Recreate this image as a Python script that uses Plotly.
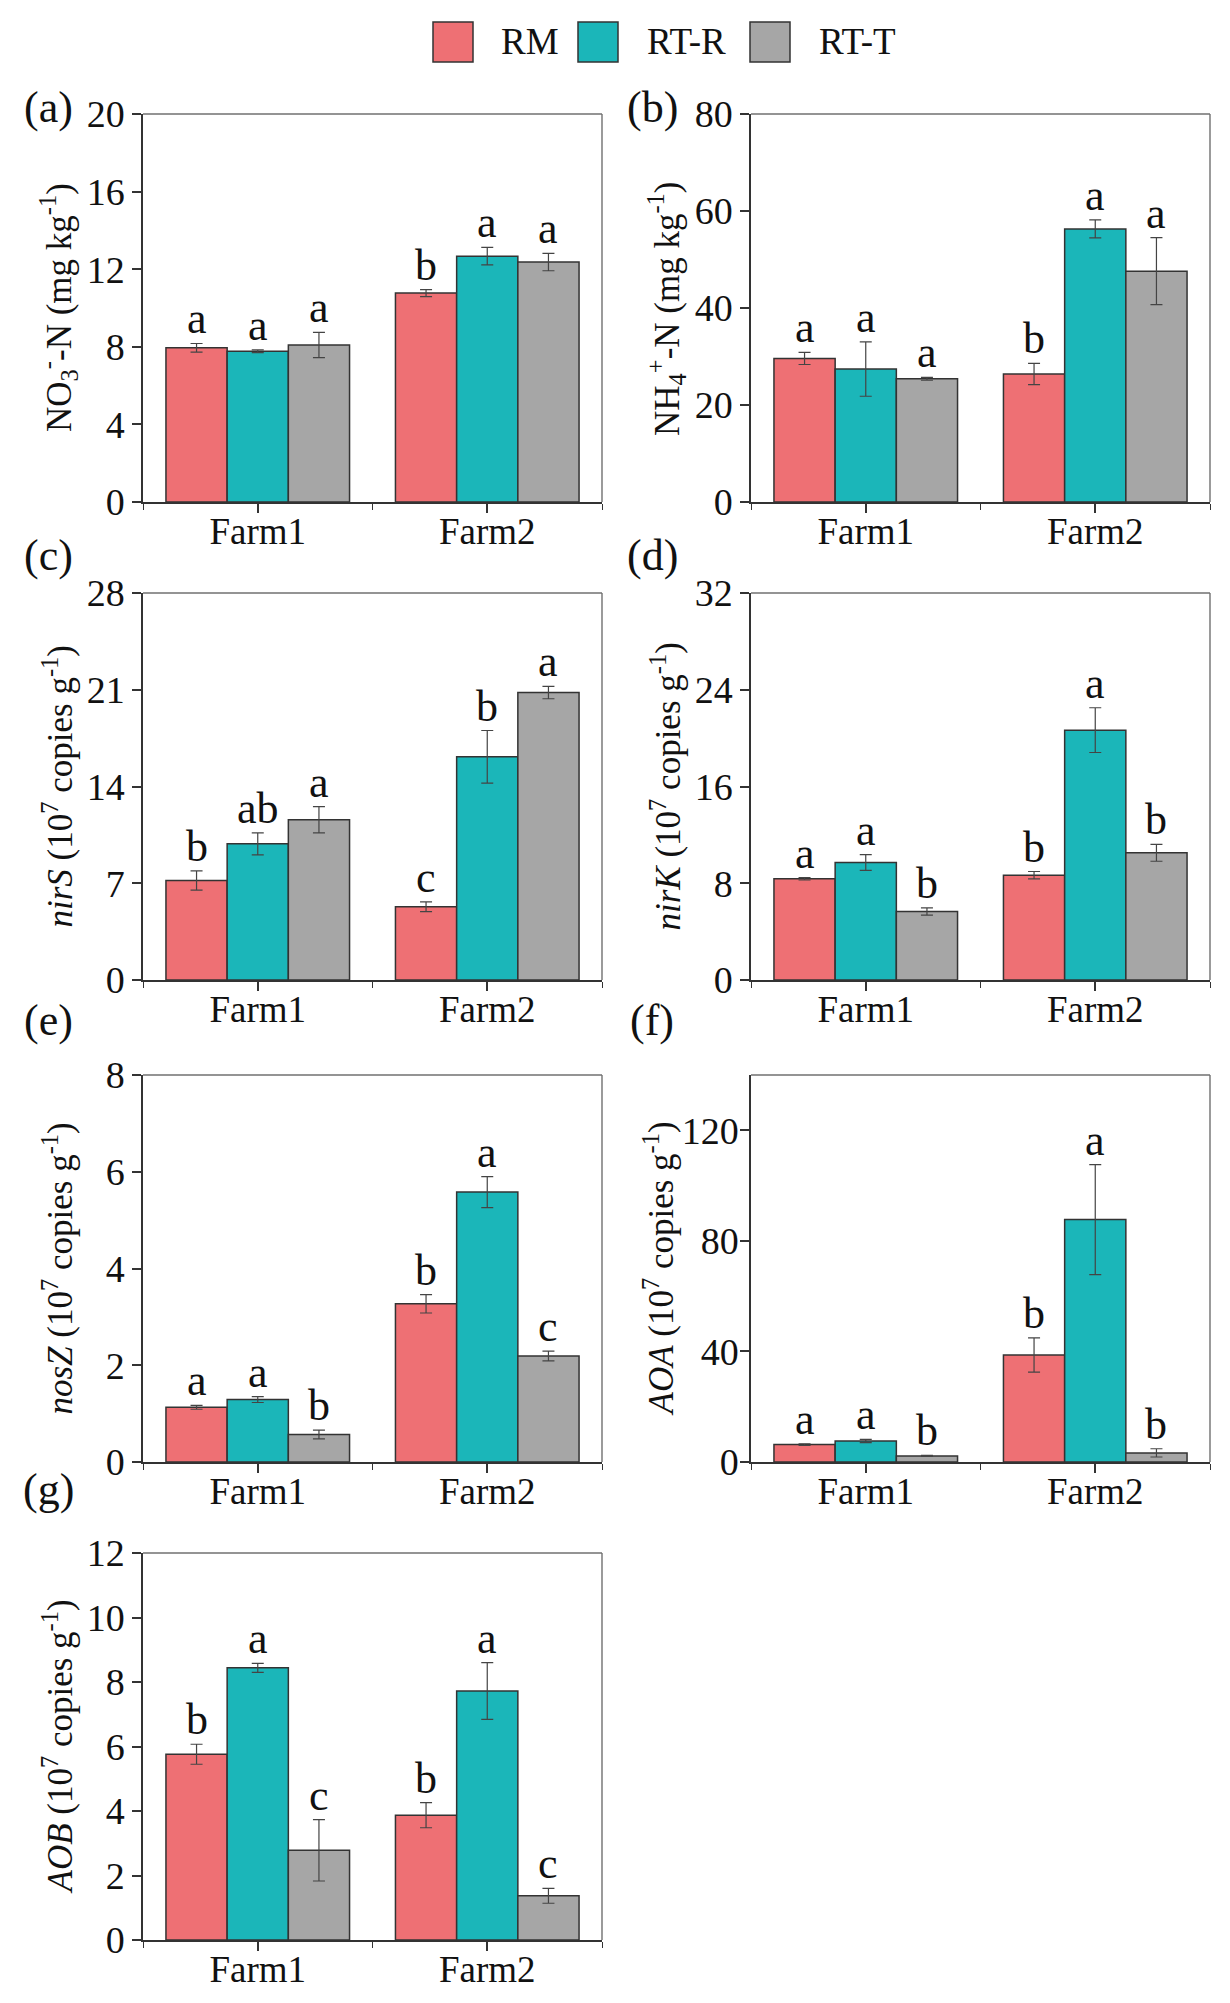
import plotly.graph_objects as go

# page is 1230x2003; the html body keeps an 8px margin, so the figure is a bit smaller
PAGE_W, PAGE_H = 1230, 2003
PAD = 8
W, H = PAGE_W - 2 * PAD, PAGE_H - 2 * PAD

farms = ["Farm1", "Farm2"]
treatments = ["RM", "RT-R", "RT-T"]
bar_colors = ["#EE7074", "#1BB6B9", "#A6A6A6"]

# rows are treatments (RM, RT-R, RT-T), columns are farms (Farm1, Farm2)
no3_mean = [[7.95, 10.77], [7.77, 12.67], [8.09, 12.37]]
no3_err = [[0.22, 0.18], [0.07, 0.45], [0.65, 0.45]]
no3_sig = [["a", "b"], ["a", "a"], ["a", "a"]]

nh4_mean = [[29.6, 26.4], [27.4, 56.3], [25.4, 47.6]]
nh4_err = [[1.25, 2.2], [5.6, 1.85], [0.3, 6.9]]
nh4_sig = [["a", "b"], ["a", "a"], ["a", "a"]]

nirs_mean = [[7.2, 5.3], [9.85, 16.15], [11.6, 20.8]]
nirs_err = [[0.7, 0.35], [0.8, 1.9], [0.95, 0.45]]
nirs_sig = [["b", "c"], ["ab", "b"], ["a", "a"]]

nirk_mean = [[8.37, 8.67], [9.72, 20.66], [5.66, 10.52]]
nirk_err = [[0.1, 0.3], [0.65, 1.85], [0.3, 0.7]]
nirk_sig = [["a", "b"], ["a", "a"], ["b", "b"]]

nosz_mean = [[1.13, 3.27], [1.29, 5.58], [0.57, 2.19]]
nosz_err = [[0.04, 0.19], [0.06, 0.32], [0.09, 0.1]]
nosz_sig = [["a", "b"], ["a", "a"], ["b", "c"]]

aoa_mean = [[6.3, 38.7], [7.6, 87.7], [2.2, 3.3]]
aoa_err = [[0.3, 6.2], [0.6, 19.9], [0.2, 1.5]]
aoa_sig = [["a", "b"], ["a", "a"], ["b", "b"]]

aob_mean = [[5.76, 3.87], [8.44, 7.72], [2.78, 1.37]]
aob_err = [[0.31, 0.39], [0.14, 0.88], [0.95, 0.23]]
aob_sig = [["b", "b"], ["a", "a"], ["c", "c"]]

panels = [
    ("(a)", "NO<sub>3</sub><sup>-</sup>-N (mg kg<sup>-1</sup>)", no3_mean, no3_err, no3_sig, [0, 4, 8, 12, 16, 20], 20),
    ("(b)", "NH<sub>4</sub><sup>+</sup>-N (mg kg<sup>-1</sup>)", nh4_mean, nh4_err, nh4_sig, [0, 20, 40, 60, 80], 80),
    ("(c)", "<i>nirS</i> (10<sup>7</sup> copies g<sup>-1</sup>)", nirs_mean, nirs_err, nirs_sig, [0, 7, 14, 21, 28], 28),
    ("(d)", "<i>nirK</i> (10<sup>7</sup> copies g<sup>-1</sup>)", nirk_mean, nirk_err, nirk_sig, [0, 8, 16, 24, 32], 32),
    ("(e)", "<i>nosZ</i> (10<sup>7</sup> copies g<sup>-1</sup>)", nosz_mean, nosz_err, nosz_sig, [0, 2, 4, 6, 8], 8),
    ("(f)", "<i>AOA</i> (10<sup>7</sup> copies g<sup>-1</sup>)", aoa_mean, aoa_err, aoa_sig, [0, 40, 80, 120], 140),
    ("(g)", "<i>AOB</i> (10<sup>7</sup> copies g<sup>-1</sup>)", aob_mean, aob_err, aob_sig, [0, 2, 4, 6, 8, 10, 12], 12),
]

# pixel layout of the panel grid (page coordinates)
cols_px = [(143, 602), (751, 1210)]
rows_px = [(114, 502), (593, 980), (1075, 1462), (1553, 1940)]
label_y_px = [108, 556, 1020, 1489]
label_x_px = [48, 652]

FONT = "Liberation Serif"
AXIS_COLOR = "#333333"
FRAME_COLOR = "#707070"
TEXT_COLOR = "#111111"


def px_x(x):
    return (x - PAD) / W


def px_y(y):
    return 1 - (y - PAD) / H


fig = go.Figure()
annotations = []
shapes = []
layout = {}

group_w = 0.8
bar_w = group_w / len(treatments)

for k, (lab, ytitle, mean, err, sig, yticks, ymax) in enumerate(panels):
    r, c = divmod(k, 2)
    sfx = "" if k == 0 else str(k + 1)
    xa, ya = "x" + sfx, "y" + sfx
    x0, x1 = cols_px[c]
    y0, y1 = rows_px[r]
    wide_labels = max(len(str(v)) for v in yticks) > 2

    for i, t in enumerate(treatments):
        fig.add_trace(go.Bar(
            x=[0, 1], y=mean[i], name=t,
            marker=dict(color=bar_colors[i], line=dict(color=AXIS_COLOR, width=1.5)),
            error_y=dict(type="data", array=err[i], color="#444444", thickness=1.2, width=6),
            xaxis=xa, yaxis=ya, showlegend=False,
        ))
        for j in range(len(farms)):
            annotations.append(dict(
                x=j - group_w / 2 + bar_w * (i + 0.5), y=mean[i][j] + err[i][j],
                xref=xa, yref=ya, text=sig[i][j], showarrow=False,
                yanchor="bottom", yshift=-2,
                font=dict(family=FONT, size=44, color=TEXT_COLOR),
            ))

    layout["xaxis" + sfx] = dict(
        domain=[px_x(x0), px_x(x1)], anchor=ya, range=[-0.5, 1.5], automargin=False,
        tickvals=[0, 1], ticktext=farms, ticks="outside", ticklen=9, tickwidth=1.5,
        tickcolor=AXIS_COLOR, showline=True, linecolor=AXIS_COLOR, linewidth=1.5,
        showgrid=False, zeroline=False, ticklabelstandoff=-13,
        minor=dict(tickvals=[-0.5, 0.5, 1.5], ticks="outside", ticklen=6, tickwidth=1.2,
                   tickcolor=AXIS_COLOR, showgrid=False),
        tickfont=dict(family=FONT, size=37, color=TEXT_COLOR),
    )
    layout["yaxis" + sfx] = dict(
        domain=[px_y(y1), px_y(y0)], anchor=xa, range=[0, ymax], automargin=False,
        tickvals=yticks, ticks="outside", ticklen=9, tickwidth=1.5, tickcolor=AXIS_COLOR,
        showline=True, linecolor=AXIS_COLOR, linewidth=1.5,
        showgrid=False, zeroline=False, ticklabelstandoff=-6 if wide_labels else 0,
        tickfont=dict(family=FONT, size=38, color=TEXT_COLOR),
    )

    # lighter frame on the top and right sides
    for sx0, sx1, sy0, sy1 in [(0, 1, 1, 1), (1, 1, 0, 1)]:
        shapes.append(dict(
            type="line", xref=xa + " domain", yref=ya + " domain",
            x0=sx0, x1=sx1, y0=sy0, y1=sy1, line=dict(color=FRAME_COLOR, width=1.4),
        ))

    # y axis title
    annotations.append(dict(
        x=px_x(x0 - (92 if wide_labels else 85)), y=px_y((y0 + y1) / 2), xref="paper", yref="paper",
        text=ytitle, textangle=-90, showarrow=False, xanchor="center", yanchor="middle",
        font=dict(family=FONT, size=35, color=TEXT_COLOR),
    ))
    # panel label
    annotations.append(dict(
        x=px_x(label_x_px[c]), y=px_y(label_y_px[r]), xref="paper", yref="paper",
        text=lab, showarrow=False, xanchor="center", yanchor="middle",
        font=dict(family=FONT, size=44, color=TEXT_COLOR),
    ))

# legend drawn at the top
legend_box_x = [433, 578, 750]
legend_text_x = [499, 645, 817]
for i, t in enumerate(treatments):
    shapes.append(dict(
        type="rect", xref="paper", yref="paper",
        x0=px_x(legend_box_x[i]), x1=px_x(legend_box_x[i] + 40),
        y0=px_y(62), y1=px_y(22),
        fillcolor=bar_colors[i], line=dict(color=AXIS_COLOR, width=1.5),
    ))
    annotations.append(dict(
        x=px_x(legend_text_x[i]), y=px_y(42), xref="paper", yref="paper",
        text=t, showarrow=False, xanchor="left", yanchor="middle",
        font=dict(family=FONT, size=37, color=TEXT_COLOR),
    ))

fig.update_layout(
    width=W, height=H,
    margin=dict(l=0, r=0, t=0, b=0, autoexpand=False),
    paper_bgcolor="white", plot_bgcolor="white",
    barmode="group", bargap=0.2, bargroupgap=0,
    annotations=annotations, shapes=shapes,
    **layout,
)

fig.write_html("out.html")
